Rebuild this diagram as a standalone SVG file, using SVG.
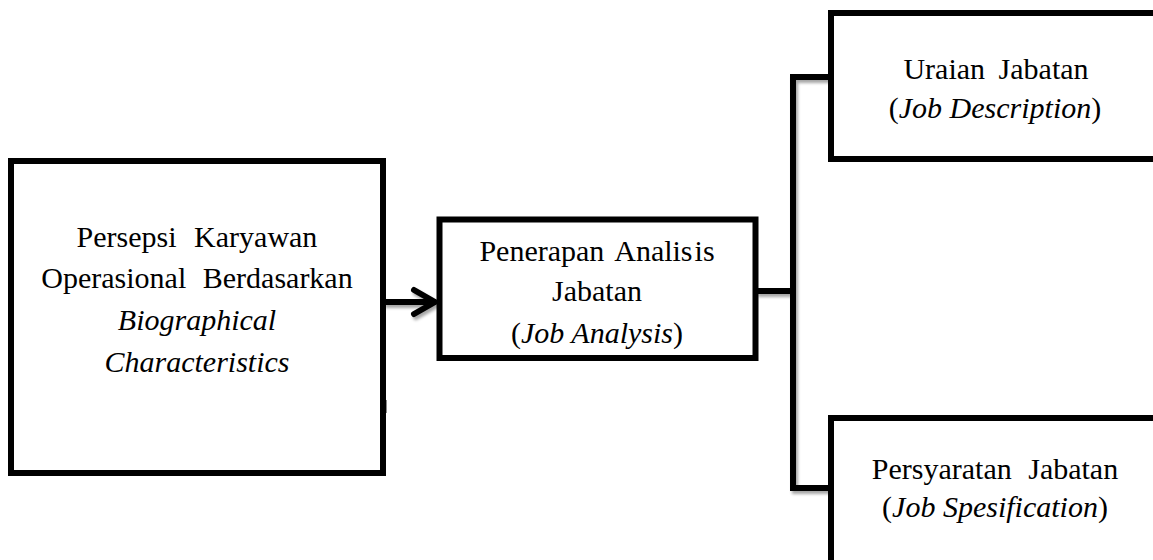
<svg xmlns="http://www.w3.org/2000/svg" width="1153" height="560" viewBox="0 0 1153 560">
  <defs>
    <filter id="sh" filterUnits="userSpaceOnUse" x="0" y="0" width="1153" height="560">
      <feDropShadow dx="2" dy="3" stdDeviation="1.5" flood-color="#000" flood-opacity="0.35"/>
    </filter>
  </defs>
  <style>
    .box { fill: #fff; stroke: #000; stroke-width: 6; }
    .conn { fill: none; stroke: #000; stroke-width: 6; }
    .t { font-size: 30px; fill: #000; text-anchor: middle; }
    .i { font-style: italic; }
  </style>
  <rect width="1153" height="560" fill="#fff"/>

  <g id="connectors" filter="url(#sh)">
    <line class="conn" x1="383" y1="302" x2="436" y2="302"/>
    <polyline class="conn" points="414,290 435,302 414,314" stroke-linecap="round" stroke-linejoin="round"/>
    <line class="conn" x1="756" y1="291" x2="793" y2="291"/>
    <polyline class="conn" points="831,77 793,77 793,488 831,488"/>
  </g>

  <g font-family="'Liberation Serif', Tinos, 'Times New Roman', 'DejaVu Serif', serif">
  <g id="node-persepsi">
    <rect class="box" x="11" y="161" width="372" height="312"/>
    <text class="t" x="197" y="247" word-spacing="10">Persepsi Karyawan</text>
    <text class="t" x="197" y="288" word-spacing="9">Operasional Berdasarkan</text>
    <text class="t i" x="197" y="330">Biographical</text>
    <text class="t i" x="197" y="372">Characteristics</text>
    <line x1="386.5" y1="400" x2="386.5" y2="413" stroke="#888" stroke-width="1"/>
  </g>

  <g id="node-analisis">
    <rect class="box" x="439.5" y="219.5" width="316" height="138.5"/>
    <text class="t" x="597" y="261" word-spacing="4">Penerapan Analis<tspan dx="2">is</tspan></text>
    <text class="t" x="597" y="301">Jabatan</text>
    <text class="t" x="597" y="343">(<tspan class="i">Job Analysis</tspan>)</text>
  </g>

  <g id="node-uraian">
    <rect class="box" x="831" y="13" width="340" height="146"/>
    <text class="t" x="996" y="79" word-spacing="6">Uraian Jabatan</text>
    <text class="t" x="995" y="118">(<tspan class="i">Job Description</tspan>)</text>
  </g>

  <g id="node-persyaratan">
    <rect class="box" x="831" y="418" width="340" height="160"/>
    <text class="t" x="995" y="479" word-spacing="9">Persyaratan Jabatan</text>
    <text class="t" x="995" y="517">(<tspan class="i">Job Spesification</tspan>)</text>
  </g>
  </g>
</svg>
